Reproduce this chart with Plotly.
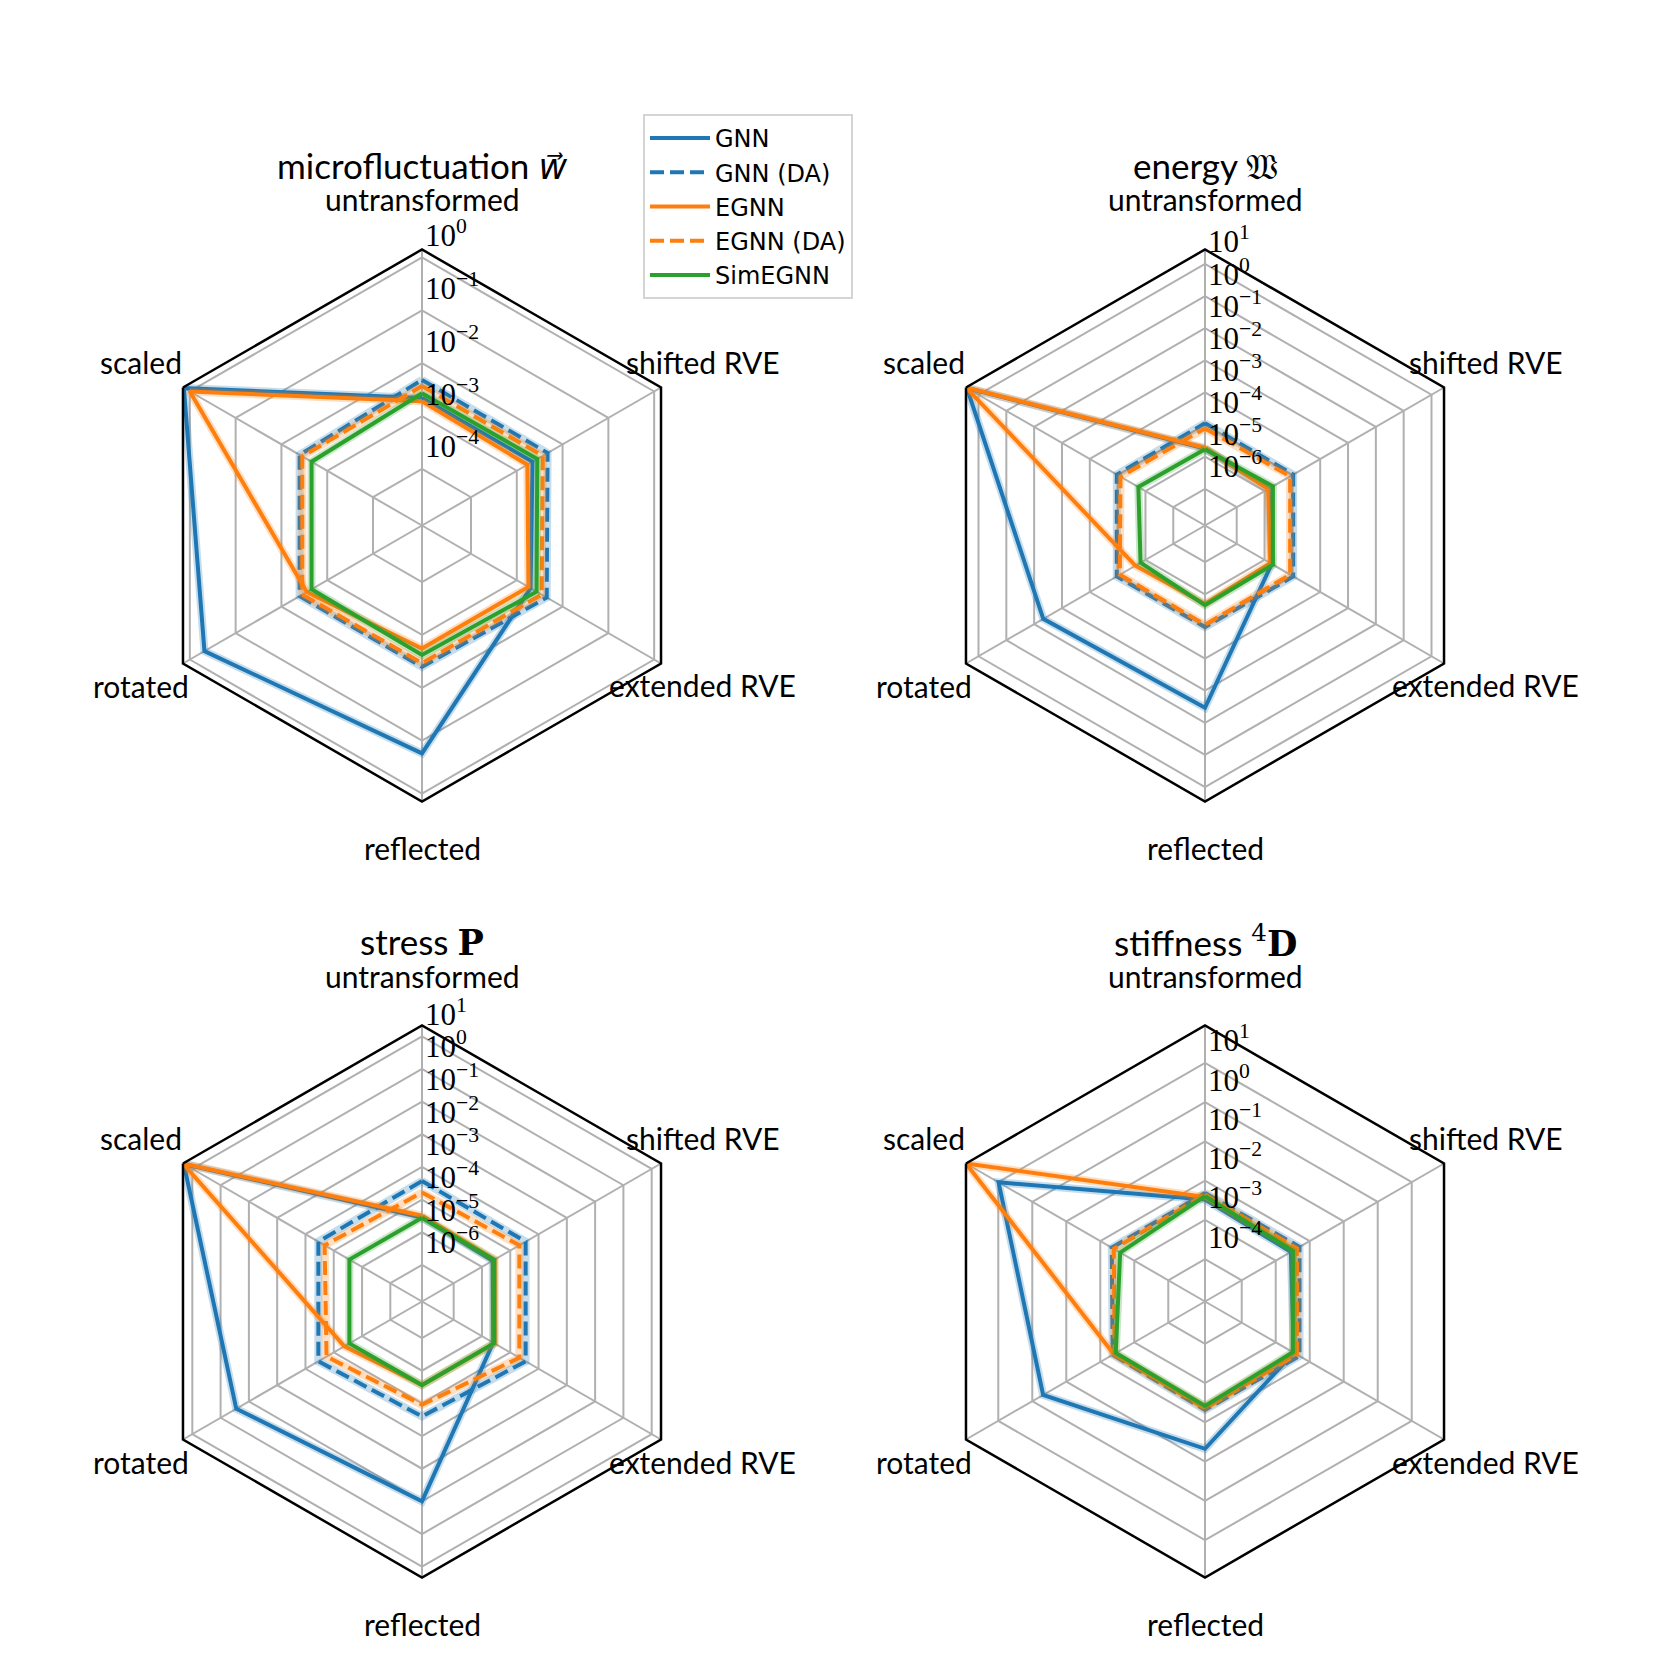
import math

import plotly.graph_objects as go

# --- Data ---

CATEGORIES = ["untransformed", "shifted RVE", "extended RVE", "reflected", "rotated", "scaled"]
MODELS = ["GNN", "GNN (DA)", "EGNN", "EGNN (DA)", "SimEGNN"]

# microfluctuation w
micro_gnn = [2.2e-3, 2.2e-3, 2.0e-3, 0.174, 0.48, 1.35]
micro_gnn_da = [4.8e-3, 4.7e-3, 4.5e-3, 4.0e-3, 4.0e-3, 4.0e-3]
micro_egnn = [1.9e-3, 1.7e-3, 1.8e-3, 1.8e-3, 2.8e-3, 1.0]
micro_egnn_da = [3.7e-3, 3.7e-3, 3.5e-3, 3.4e-3, 3.5e-3, 3.5e-3]
micro_sim = [2.7e-3, 2.8e-3, 2.7e-3, 2.4e-3, 2.2e-3, 2.2e-3]
micro_ticks = [1e-4, 1e-3, 1e-2, 1e-1, 1e0]

# energy W
energy_gnn = [1.8e-5, 1.4e-5, 1.8e-5, 3.4e-2, 4.7e-2, 26.0]
energy_gnn_da = [1.1e-4, 1.07e-4, 1.07e-4, 1.05e-4, 1.07e-4, 1.07e-4]
energy_egnn = [1.9e-5, 1.35e-5, 1.6e-5, 2.0e-5, 2.3e-5, 28.0]
energy_egnn_da = [7.6e-5, 8.3e-5, 8.3e-5, 8.9e-5, 8.3e-5, 7.9e-5]
energy_sim = [1.7e-5, 2.0e-5, 2.0e-5, 2.2e-5, 1.5e-5, 1.8e-5]
energy_ticks = [1e-6, 1e-5, 1e-4, 1e-3, 1e-2, 1e-1, 1e0, 1e1]

# stress P
stress_gnn = [2.8e-5, 2.4e-5, 2.5e-5, 0.1, 0.28, 20.0]
stress_gnn_da = [3.7e-4, 3.5e-4, 3.5e-4, 2.5e-4, 3.5e-4, 3.5e-4]
stress_egnn = [3.2e-5, 2.8e-5, 2.8e-5, 2.75e-5, 4.2e-5, 21.4]
stress_egnn_da = [1.66e-4, 2.1e-4, 2.1e-4, 1.1e-4, 1.8e-4, 2.1e-4]
stress_sim = [2.8e-5, 2.7e-5, 2.7e-5, 2.75e-5, 2.8e-5, 2.8e-5]
stress_ticks = [1e-6, 1e-5, 1e-4, 1e-3, 1e-2, 1e-1, 1e0, 1e1]

# stiffness 4D
stiff_gnn = [3.3e-3, 2.8e-3, 3.4e-3, 4.7e-2, 0.48, 9.8]
stiff_gnn_da = [4.8e-3, 5.0e-3, 5.0e-3, 4.8e-3, 4.3e-3, 4.6e-3]
stiff_egnn = [3.8e-3, 3.5e-3, 3.5e-3, 4.0e-3, 4.0e-3, 89.0]
stiff_egnn_da = [4.4e-3, 4.2e-3, 4.2e-3, 4.4e-3, 3.8e-3, 4.0e-3]
stiff_sim = [4.0e-3, 3.2e-3, 3.2e-3, 3.8e-3, 3.5e-3, 2.6e-3]
stiff_ticks = [1e-4, 1e-3, 1e-2, 1e-1, 1e0, 1e1]

# --- Style ---

W = H = 1661
PAGE_MARGIN = 8  # px, browser body margin around the plot div
RADIUS = 276  # px, polar radius
LABEL_PAD = 48  # px, category label centre beyond the outer vertex
RLABEL_RISE = 24  # px, radial tick label centre above its ring
GRID = "#b0b0b0"
SANS = "Lato"
SERIF = "Liberation Serif"
STYLE = {
    "GNN": ("#1f77b4", "solid"),
    "GNN (DA)": ("#1f77b4", "14px,6px"),
    "EGNN": ("#ff7f0e", "solid"),
    "EGNN (DA)": ("#ff7f0e", "14px,6px"),
    "SimEGNN": ("#2ca02c", "solid"),
}

PANELS = [
    dict(title="microfluctuation <span style=\"font-family:'DejaVu Sans'\"><i>w⃗</i></span>",
         series=[micro_gnn, micro_gnn_da, micro_egnn, micro_egnn_da, micro_sim],
         rrange=[-5.07, 0.15], ticks=micro_ticks, center=(422, 525.5)),
    dict(title="energy <span style=\"font-family:'DejaVu Serif'\">𝔚</span>",
         series=[energy_gnn, energy_gnn_da, energy_egnn, energy_egnn_da, energy_sim],
         rrange=[-7.14, 1.45], ticks=energy_ticks, center=(1205, 525.5)),
    dict(title="stress <span style=\"font-family:'DejaVu Serif'\"><b>P</b></span>",
         series=[stress_gnn, stress_gnn_da, stress_egnn, stress_egnn_da, stress_sim],
         rrange=[-7.12, 1.33], ticks=stress_ticks, center=(422, 1301.5)),
    dict(title="stiffness <span style=\"font-family:'DejaVu Serif'\"><sup>4</sup><b>D</b></span>",
         series=[stiff_gnn, stiff_gnn_da, stiff_egnn, stiff_egnn_da, stiff_sim],
         rrange=[-5.08, 1.95], ticks=stiff_ticks, center=(1205, 1301.5)),
]


def _px(x: float, y: float) -> tuple[float, float]:
    """Page pixel (from top-left of the screenshot) -> paper coordinates."""
    return (x - PAGE_MARGIN) / W, (H - (y - PAGE_MARGIN)) / H


def _tick_text(v: float) -> str:
    e = int(round(math.log10(v)))
    return "10<sup>" + (f"−{-e}" if e < 0 else str(e)) + "</sup>"


def _label(fig: go.Figure, x: float, y: float, text: str, size: int,
           family: str = SANS, xanchor: str = "center") -> None:
    px, py = _px(x, y)
    fig.add_annotation(
        x=px, y=py, xref="paper", yref="paper", text=text, showarrow=False,
        xanchor=xanchor, yanchor="middle",
        font=dict(family=family, size=size, color="black"),
    )


def radar_panel(fig: go.Figure, n: int, panel: dict) -> None:
    sub = "polar" if n == 1 else f"polar{n}"
    theta = CATEGORIES + CATEGORIES[:1]

    for name, vals in zip(MODELS, panel["series"]):
        color, dash = STYLE[name]
        r = list(vals) + list(vals[:1])
        # light band underneath (spread over runs)
        fig.add_trace(go.Scatterpolar(
            r=r, theta=theta, mode="lines", subplot=sub,
            line=dict(color=color, width=8), opacity=0.25,
            showlegend=False, hoverinfo="skip",
        ))
        fig.add_trace(go.Scatterpolar(
            r=r, theta=theta, mode="lines", subplot=sub, name=name,
            line=dict(color=color, width=4, dash=dash),
            legendgroup=name, showlegend=(n == 1),
        ))

    lo, hi = panel["rrange"]
    cx, cy = panel["center"]
    x0, y1 = _px(cx - RADIUS, cy - RADIUS)
    x1, y0 = _px(cx + RADIUS, cy + RADIUS)
    fig.update_layout(**{sub: dict(
        domain=dict(x=[x0, x1], y=[y0, y1]),
        bgcolor="white",
        gridshape="linear",
        angularaxis=dict(
            categoryorder="array", categoryarray=CATEGORIES,
            rotation=90, direction="clockwise",
            showline=True, linecolor="black", linewidth=2.5,
            showgrid=True, gridcolor=GRID, gridwidth=2,
            showticklabels=False, ticks="",
        ),
        radialaxis=dict(
            type="log", range=[lo, hi], tickvals=panel["ticks"],
            showline=False, ticks="", angle=90, showticklabels=False,
            showgrid=True, gridcolor=GRID, gridwidth=2,
        ),
    )})

    # radial tick labels, right of the vertical spoke, sitting above their ring
    px_per_dec = RADIUS / (hi - lo)
    for v in panel["ticks"]:
        ry = cy - (math.log10(v) - lo) * px_per_dec - RLABEL_RISE
        _label(fig, cx + 1, ry, _tick_text(v), 31, family=SERIF, xanchor="left")

    # category labels around the hexagon (centred, as matplotlib does)
    for k, cat in enumerate(CATEGORIES):
        ang = math.radians(60 * k)
        lx = cx + (RADIUS + LABEL_PAD) * math.sin(ang)
        ly = cy - (RADIUS + LABEL_PAD) * math.cos(ang)
        _label(fig, lx, ly - 2, cat, 30)

    _label(fig, cx, cy - RADIUS - 84, panel["title"], 35)


fig = go.Figure()
for i, p in enumerate(PANELS, start=1):
    radar_panel(fig, i, p)

lx, ly = _px(643, 114)
fig.update_layout(
    width=W, height=H,
    margin=dict(l=0, r=0, t=0, b=0),
    paper_bgcolor="white",
    plot_bgcolor="white",
    font=dict(family=SANS, color="black"),
    showlegend=True,
    legend=dict(
        x=lx, y=ly, xanchor="left", yanchor="top",
        bgcolor="white", bordercolor="#d5d5d5", borderwidth=2,
        font=dict(family="DejaVu Sans", size=24, color="black"),
        tracegroupgap=0, itemwidth=60,
    ),
)

fig.write_html("out.html")
